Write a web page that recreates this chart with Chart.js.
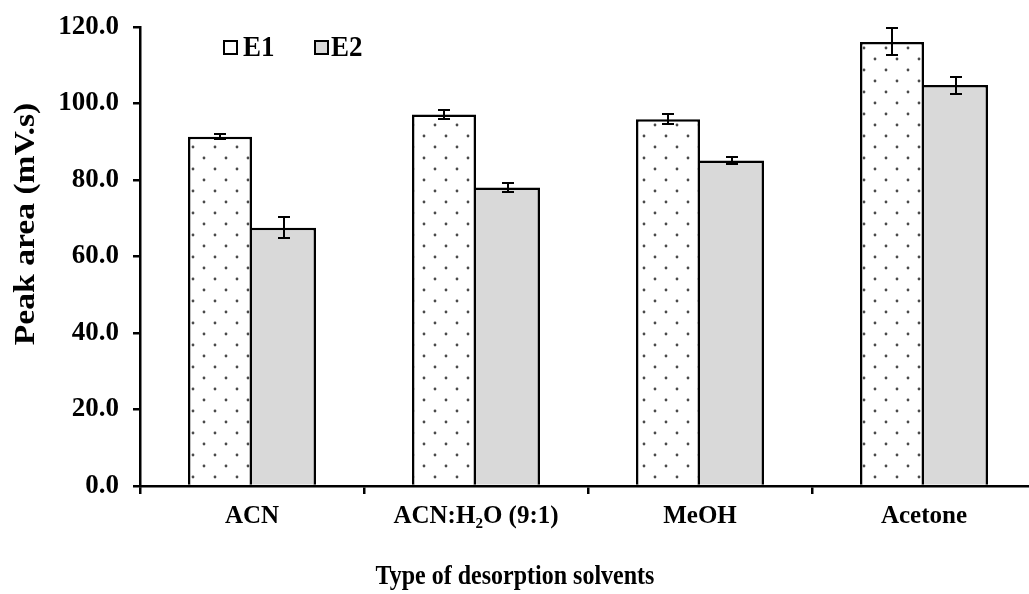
<!DOCTYPE html>
<html>
<head>
<meta charset="utf-8">
<script src="https://cdn.jsdelivr.net/npm/chart.js@4.4.1/dist/chart.umd.min.js"></script>
<style>
html,body{margin:0;padding:0;background:#fff;overflow:hidden;width:1029px;height:594px;}
canvas{display:block;}
</style>
</head>
<body>
<canvas id="c" width="1040" height="594"></canvas>
<script>
const categories = ['ACN', 'ACN:H\u2082O (9:1)', 'MeOH', 'Acetone'];
const seriesNames = ['E1', 'E2'];
const e1Values = [91.3, 97.1, 95.9, 116.1];
const e1Errors = [0.7, 1.2, 1.3, 3.5];
const e2Values = [67.5, 78.0, 85.1, 104.8];
const e2Errors = [2.7, 1.1, 1.0, 2.2];
const yTicks = [0, 20, 40, 60, 80, 100, 120];
const yTitle = 'Peak area (mV.s)';
const xTitle = 'Type of desorption solvents';

const FONT = "'Liberation Serif', 'Times New Roman', serif";

// dotted pattern
const pc = document.createElement('canvas');
pc.width = 22; pc.height = 22;
const pctx = pc.getContext('2d');
pctx.fillStyle = '#fff'; pctx.fillRect(0, 0, 22, 22);
pctx.fillStyle = '#4a4a4a';
[[6, 4], [17, 15]].forEach(([x, y]) => { pctx.beginPath(); pctx.arc(x, y, 1.4, 0, Math.PI * 2); pctx.fill(); });
const ctx = document.getElementById('c').getContext('2d');
const dotPattern = ctx.createPattern(pc, 'repeat');

const errors = [e1Errors, e2Errors];

const errorBarPlugin = {
  id: 'errorBars',
  afterDatasetsDraw(chart) {
    const c = chart.ctx;
    const ys = chart.scales.y;
    c.save();
    c.strokeStyle = '#000';
    c.lineWidth = 2;
    chart.data.datasets.forEach((ds, di) => {
      const meta = chart.getDatasetMeta(di);
      meta.data.forEach((el, i) => {
        const v = ds.data[i], e = errors[di][i];
        const yt = Math.round(ys.getPixelForValue(v + e));
        const yb = Math.round(ys.getPixelForValue(v - e));
        const x = Math.round(el.x);
        c.beginPath();
        c.moveTo(x, yt); c.lineTo(x, yb);
        c.moveTo(x - 6, yt); c.lineTo(x + 6, yt);
        c.moveTo(x - 6, yb); c.lineTo(x + 6, yb);
        c.stroke();
      });
    });
    c.restore();
  }
};

const textPlugin = {
  id: 'texts',
  afterDraw(chart) {
    const c = chart.ctx;
    // y title (stretched along its length)
    c.save();
    c.fillStyle = '#000';
    c.font = 'bold 30px ' + FONT;
    c.textAlign = 'center';
    c.textBaseline = 'middle';
    c.translate(26, 224);
    c.rotate(-Math.PI / 2);
    c.scale(1.12, 1);
    c.fillText(yTitle, 0, 0);
    c.restore();
    // x title
    c.save();
    c.fillStyle = '#000';
    c.font = 'bold 24px ' + FONT;
    c.textAlign = 'center';
    c.textBaseline = 'middle';
    c.translate(515, 577);
    c.scale(1, 1.12);
    c.fillText(xTitle, 0, 0);
    c.restore();
    // legend
    c.save();
    c.lineWidth = 2;
    c.strokeStyle = '#000';
    c.fillStyle = '#fff';
    c.fillRect(224, 41, 13, 13); c.strokeRect(224, 41, 13, 13);
    c.fillStyle = '#d9d9d9';
    c.fillRect(315, 41, 13, 13); c.strokeRect(315, 41, 13, 13);
    c.fillStyle = '#000';
    c.font = 'bold 27px ' + FONT;
    c.textAlign = 'left';
    c.textBaseline = 'middle';
    c.translate(0, 48);
    c.scale(1, 1.12);
    c.fillText(seriesNames[0], 243, 0);
    c.fillText(seriesNames[1], 331, 0);
    c.restore();
  }
};

new Chart(ctx, {
  type: 'bar',
  data: {
    labels: categories,
    datasets: [
      {
        label: seriesNames[0],
        data: e1Values,
        backgroundColor: dotPattern,
        borderColor: '#000',
        borderWidth: 2.5,
        categoryPercentage: 0.5714,
        barPercentage: 1.0
      },
      {
        label: seriesNames[1],
        data: e2Values,
        backgroundColor: '#d9d9d9',
        borderColor: '#000',
        borderWidth: { top: 2.5, right: 2.5, left: 0, bottom: 0 },
        categoryPercentage: 0.5714,
        barPercentage: 1.0
      }
    ]
  },
  options: {
    responsive: false,
    animation: false,
    devicePixelRatio: 1,
    layout: { padding: { top: 0, right: 4, left: 0, bottom: 0 } },
    plugins: { legend: { display: false }, tooltip: { enabled: false } },
    scales: {
      x: {
        offset: true,
        grid: { display: true, drawOnChartArea: false, drawTicks: true, tickLength: 8, color: '#000', lineWidth: 2.5, offset: true },
        border: { display: true, color: '#000', width: 2.5 },
        ticks: { color: '#000', font: { family: FONT, size: 25, weight: 'bold' }, padding: 8, maxRotation: 0, autoSkip: false },
        afterFit(s) { s.height = 108; }
      },
      y: {
        min: 0, max: 120,
        afterBuildTicks(s) { s.ticks = yTicks.map(v => ({ value: v })); },
        grid: { display: true, drawOnChartArea: false, drawTicks: true, tickLength: 7, color: '#000', lineWidth: 2.5 },
        border: { display: true, color: '#000', width: 2.5 },
        ticks: { color: '#000', font: { family: FONT, size: 27, weight: 'bold', lineHeight: 0.96 }, padding: 14, callback: v => Number(v).toFixed(1) },
        afterFit(s) { s.width = 140; }
      }
    }
  },
  plugins: [errorBarPlugin, textPlugin]
});
</script>
</body>
</html>
